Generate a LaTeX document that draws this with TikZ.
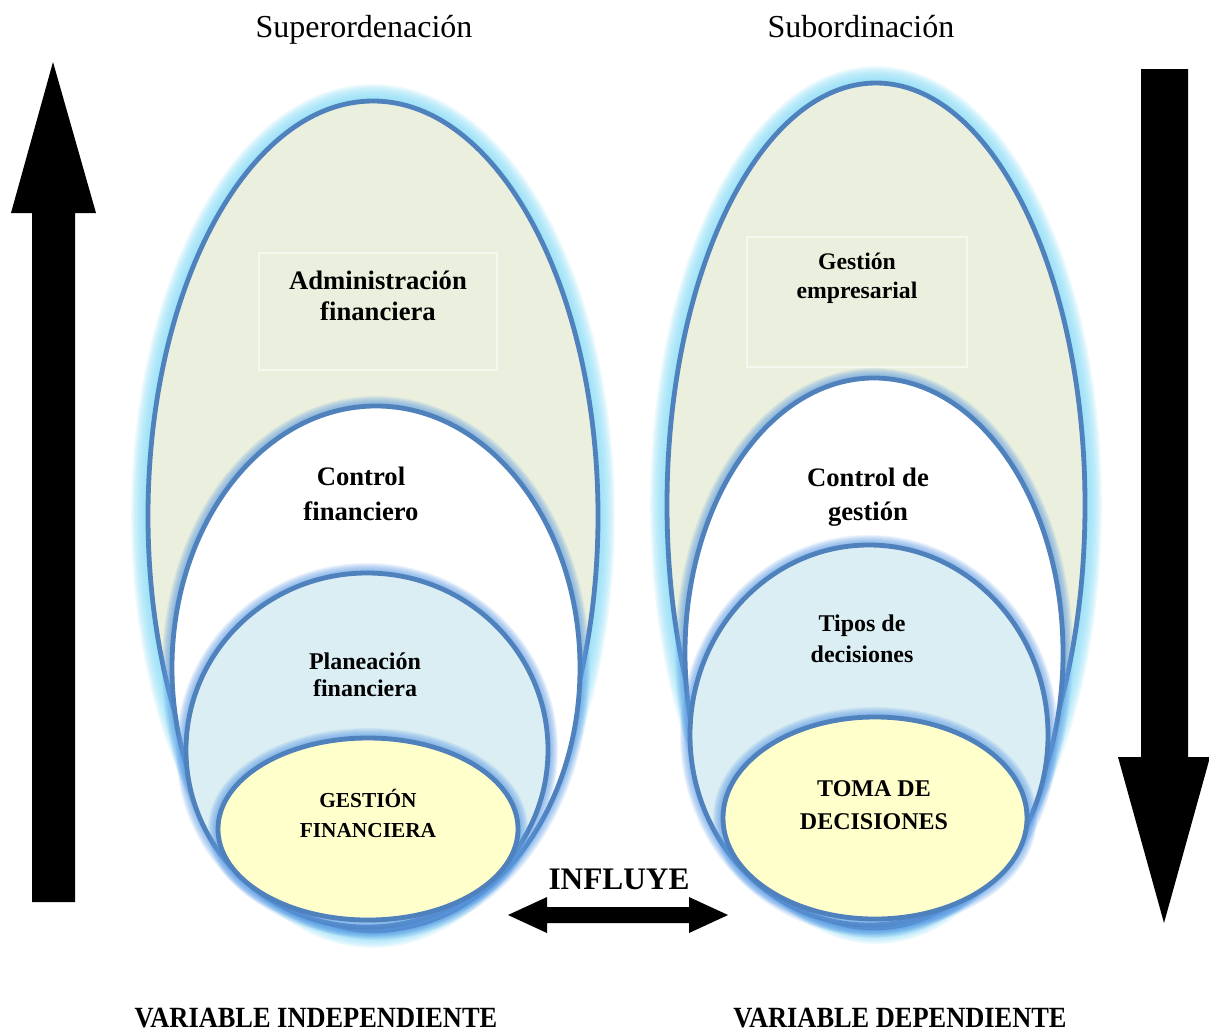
\documentclass[tikz,border=0pt]{standalone}
\usepackage{fontspec}
\setmainfont{Liberation Serif}
\usepackage{graphicx}

\definecolor{ring}{HTML}{4F81BD}
\definecolor{olivefill}{HTML}{EBF0DE}
\definecolor{bluefill}{HTML}{DBEEF4}
\definecolor{yellowfill}{HTML}{FFFFCC}
\definecolor{cyanglow}{HTML}{8EDDF6}
\definecolor{blueglow}{HTML}{5E9DE6}

% soft halo: stacked translucent strokes of growing width
\newcommand\halo[7]{% cx, cy, rx, ry, colour, step (px), opacity
  \foreach \k in {1,...,9}{
    \draw[draw=#5, line width=0.75pt*(3+#6*\k), opacity=#7]
      (#1,#2) ellipse [x radius=#3, y radius=#4];
  }}
% outer ring: wide cyan halo
\newcommand\outerring[5]{% cx, cy, rx, ry, fill colour
  \halo{#1}{#2}{#3}{#4}{cyanglow}{3.4}{0.18}
  \draw[ringline, fill=#5] (#1,#2) ellipse [x radius=#3, y radius=#4];}
% inner ring: narrow blue halo
\newcommand\innerring[5]{% cx, cy, rx, ry, fill colour
  \halo{#1}{#2}{#3}{#4}{blueglow}{1.9}{0.11}
  \draw[ringline, fill=#5] (#1,#2) ellipse [x radius=#3, y radius=#4];}

\tikzset{
  ringline/.style={draw=ring, line width=3.6pt},
  lbl/.style={align=center, inner sep=0pt, text=black},
  blockarrow/.style={fill=black, draw=none},
  faintbox/.style={draw=white!55!olivefill, line width=0.8pt},
}

\begin{document}
\begin{tikzpicture}[x=0.75pt, y=-0.75pt]
\useasboundingbox (0,0) rectangle (1209,1032);

% ---- independent variable (left) ----
\outerring{373}{516}{225}{415}{olivefill}
\draw[faintbox] (259,253) rectangle (497,370);
\innerring{376}{668}{204}{262}{white}
\innerring{367}{750}{181}{177}{bluefill}
\innerring{368}{829}{150}{91}{yellowfill}

% ---- dependent variable (right) ----
\outerring{876}{505}{209}{422}{olivefill}
\draw[faintbox] (747,237) rectangle (967,367);
\innerring{874}{653}{189}{275}{white}
\innerring{869}{735}{179}{190}{bluefill}
\innerring{875}{818}{152}{101}{yellowfill}

% ---- headings ----
\node[lbl, anchor=base, font=\fontsize{24}{28}\selectfont] (super) at (364,37) {Superordenación};
\node[lbl, anchor=base, font=\fontsize{24}{28}\selectfont] (sub) at (861,37) {Subordinación};

% ---- ring labels, left ----
\node[lbl, font=\bfseries\fontsize{20}{23.5}\selectfont] (admin) at (378,296) {Administración\\financiera};
\node[lbl, font=\bfseries\fontsize{20}{26}\selectfont] (cfin) at (361,494) {Control\\financiero};
\node[lbl, font=\bfseries\fontsize{18}{20.5}\selectfont] (plan) at (365,675) {Planeación\\financiera};
\node[lbl, font=\bfseries\fontsize{16}{22.5}\selectfont] (gfin) at (368,813) {GESTIÓN\\FINANCIERA};

% ---- ring labels, right ----
\node[lbl, font=\bfseries\fontsize{17.8}{21.8}\selectfont] (gemp) at (857,278) {Gestión\\empresarial};
\node[lbl, font=\bfseries\fontsize{20}{25.5}\selectfont] (cges) at (868,497) {Control de\\gestión};
\node[lbl, font=\bfseries\fontsize{18}{23.3}\selectfont] (tipos) at (862,639) {Tipos de\\decisiones};
\node[lbl, font=\bfseries\fontsize{18}{25}\selectfont] (toma) at (874,805) {TOMA DE\\DECISIONES};

% ---- influence arrow ----
\node[lbl, anchor=base, font=\bfseries\fontsize{23.5}{28}\selectfont] (infl) at (619,889) {INFLUYE};
\fill[blockarrow] (508,915) -- (547,897) -- (547,907) -- (689,907) -- (689,897)
  -- (728,915) -- (689,933) -- (689,923) -- (547,923) -- (547,933) -- cycle;

% ---- direction arrows ----
\fill[blockarrow] (32,902) -- (32,213) -- (11,213) -- (53,62) -- (96,213)
  -- (75,213) -- (75,902) -- cycle;
\fill[blockarrow] (1141,69) -- (1188,69) -- (1188,757) -- (1210,757)
  -- (1164,923) -- (1118,757) -- (1141,757) -- cycle;

% ---- variable captions ----
\node[lbl, anchor=base, font=\bfseries\fontsize{22}{26}\selectfont] (vind) at (316,1027)
  {\scalebox{0.9}[1]{VARIABLE INDEPENDIENTE}};
\node[lbl, anchor=base, font=\bfseries\fontsize{22}{26}\selectfont] (vdep) at (900,1027)
  {\scalebox{0.9}[1]{VARIABLE DEPENDIENTE}};
\end{tikzpicture}
\end{document}
